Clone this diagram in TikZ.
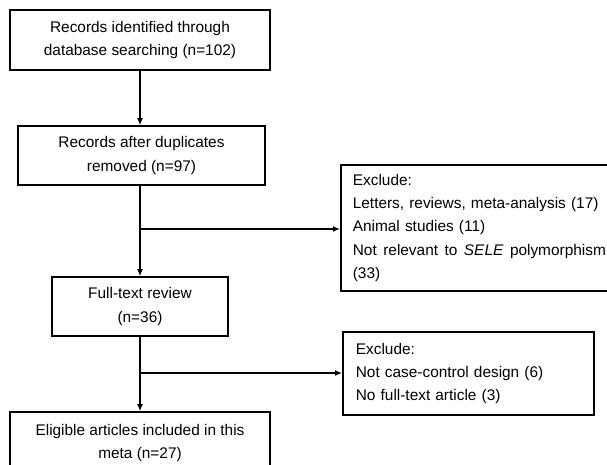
\documentclass[tikz,border=0pt]{standalone}
\usepackage{fontspec}
\setmainfont{Liberation Sans}
\usetikzlibrary{arrows.meta}
\begin{document}
\begin{tikzpicture}[x=1pt,y=-1pt,
  box/.style={draw, line width=1.7pt, rectangle, inner sep=0pt, align=center,
    font=\fontsize{15.4}{23.5}\selectfont},
  exbox/.style={draw, line width=1.7pt, rectangle, inner ysep=6pt, align=left,
    font=\fontsize{15.4}{23.2}\selectfont},
  arr/.style={line width=1.6pt, -{Latex[length=7pt,width=6pt]}}]
\useasboundingbox (0,0) rectangle (607,465);
\node[box, minimum width=260pt, minimum height=60pt] (b1) at (140,40)
  {Records identified through\\database searching (n=102)};
\node[box, minimum width=247pt, minimum height=59pt] (b2) at (141.5,155.5)
  {Records after duplicates\\removed (n=97)};
\node[box, minimum width=176pt, minimum height=59pt] (b3) at (140,306.5)
  {Full-text review\\(n=36)};
\node[box, minimum width=260pt, minimum height=62pt] (b4) at (140,443)
  {Eligible articles included in this\\meta (n=27)};
\node[exbox, anchor=north west, inner xsep=12pt, text width=258pt, minimum height=126pt] (r1) at (340,164)
  {Exclude:\\Letters, reviews, meta-analysis (17)\\Animal studies (11)\\\makebox[253pt][l]{Not\hfill relevant\hfill to\hfill \textit{SELE}\hfill polymorphism}\\(33)};
\node[exbox, anchor=north west, inner xsep=13pt, text width=225pt, minimum height=83pt] (r2) at (342,331)
  {Exclude:\\Not case-control design (6)\\No full-text article (3)};
\coordinate (j1) at (140,229);
\coordinate (j2) at (140,373);
\draw[arr] (b1.south) -- (b1.south |- b2.north);
\draw[arr] (b3.north |- b2.south) -- (b3.north);
\draw[arr] (j1) -- (j1 -| r1.west);
\draw[arr] (b3.south) -- (b4.north);
\draw[arr] (j2) -- (j2 -| r2.west);
\end{tikzpicture}
\end{document}
